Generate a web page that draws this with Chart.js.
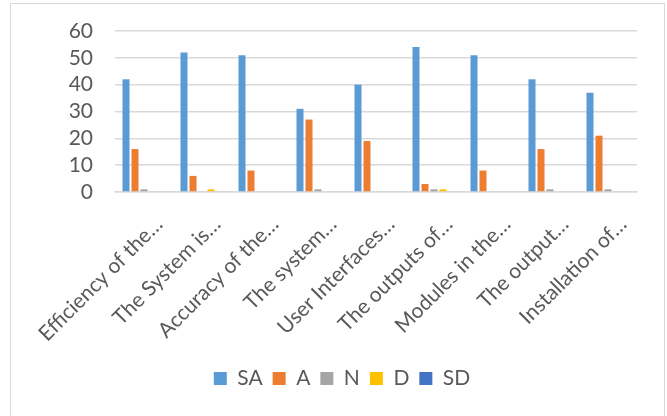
<!DOCTYPE html>
<html>
<head>
<meta charset="utf-8">
<script src="https://cdn.jsdelivr.net/npm/chart.js@4/dist/chart.umd.min.js"></script>
<style>
  html, body { margin: 0; padding: 0; background: #fff; }
  #wrap { position: relative; width: 667px; height: 416px; overflow: hidden; }
  #frame { position: absolute; left: 10px; top: 3px; width: 655px; height: 440px; border: 1px solid #d9d9d9; box-sizing: border-box; }
  canvas { position: absolute; left: 0; top: 0; }
</style>
</head>
<body>
<div id="wrap">
  <div id="frame"></div>
  <canvas id="c" width="667" height="416"></canvas>
</div>
<script>
const categories = [
  "Efficiency of the…",
  "The System is…",
  "Accuracy of the…",
  "The system…",
  "User Interfaces…",
  "The outputs of…",
  "Modules in the…",
  "The output…",
  "Installation of…"
];
const saValues = [42, 52, 51, 31, 40, 54, 51, 42, 37];
const aValues  = [16, 6, 8, 27, 19, 3, 8, 16, 21];
const nValues  = [1, 0, 0, 1, 0, 1, 0, 1, 1];
const dValues  = [0, 1, 0, 0, 0, 1, 0, 0, 0];
const sdValues = [0, 0, 0, 0, 0, 0, 0, 0, 0];
const yTicks = [0, 10, 20, 30, 40, 50, 60];

const FONT = "Lato, 'Open Sans', sans-serif";
const TEXT = "#595959";

function series(label, data, color) {
  return {
    label, data,
    backgroundColor: color,
    borderColor: color,
    borderWidth: 0,
    categoryPercentage: 0.776,
    barPercentage: 0.78
  };
}

new Chart(document.getElementById("c"), {
  type: "bar",
  data: {
    labels: categories,
    datasets: [
      series("SA", saValues, "#5B9BD5"),
      series("A", aValues, "#ED7D31"),
      series("N", nValues, "#A5A5A5"),
      series("D", dValues, "#FFC000"),
      series("SD", sdValues, "#4472C4")
    ]
  },
  options: {
    responsive: false,
    animation: false,
    layout: { padding: { left: 47, right: 30, top: 31, bottom: 17 } },
    plugins: {
      tooltip: { enabled: false },
      legend: {
        position: "bottom",
        labels: {
          font: { family: FONT, size: 21 },
          color: TEXT,
          boxWidth: 13,
          boxHeight: 13,
          padding: 10
        }
      }
    },
    scales: {
      x: {
        grid: { display: false, drawTicks: false },
        border: { display: true, color: "#d9d9d9", width: 1.5 },
        ticks: {
          font: { family: FONT, size: 21 },
          color: TEXT,
          minRotation: 45,
          maxRotation: 45,
          autoSkip: false,
          padding: 20,
          labelOffset: 15
        },
        afterFit(scale) {
          scale.height = 166;
          scale.paddingLeft = 0;
          scale.paddingRight = 0;
        }
      },
      y: {
        min: 0,
        max: 60,
        afterBuildTicks(scale) { scale.ticks = yTicks.map(v => ({ value: v })); },
        grid: { color: "#d9d9d9", lineWidth: 1.5, drawTicks: false },
        border: { display: false },
        ticks: {
          font: { family: FONT, size: 21 },
          color: TEXT,
          padding: 22,
          autoSkip: false,
          stepSize: 10
        },
        afterFit(scale) {
          scale.width = 68;
          scale.paddingTop = 0;
          scale.paddingBottom = 0;
        }
      }
    }
  }
});
</script>
</body>
</html>
